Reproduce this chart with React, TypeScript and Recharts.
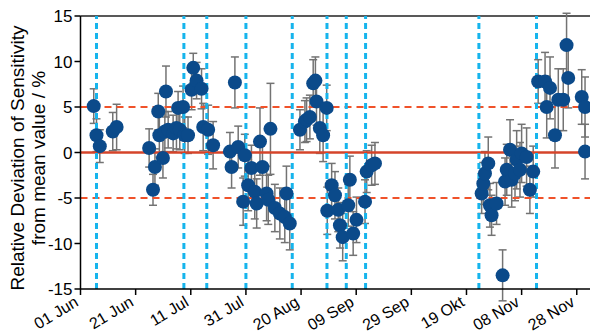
import React from "react";
import {
  ScatterChart, Scatter, XAxis, YAxis, ReferenceLine, ErrorBar,
} from "recharts";

// days after 01 Jun
const dayOffsets = [
  4.8, 5.8, 7.0, 11.7, 13.1,
  24.9, 26.3, 27.0, 28.2, 28.6, 29.9, 31.0, 30.6, 31.8, 33.6, 34.8, 36.0, 35.4,
  37.2, 37.8, 39.0, 40.3, 40.9, 42.1, 43.9, 44.5, 46.3, 48.1,
  54.2, 54.8, 56.0, 57.2, 59.0, 59.6, 60.8, 62.0, 63.2, 63.9, 65.1, 66.0, 67.5,
  68.1, 68.9, 70.5, 72.3, 74.1, 74.7, 75.9,
  79.6, 81.4, 82.0, 83.2, 84.4, 85.2, 85.6, 86.8, 88.0, 89.3, 89.5, 91.1, 92.3,
  93.5, 94.1, 95.1, 97.1, 97.7, 98.9, 100.1, 103.2, 103.8, 105.6, 106.8,
  145.5, 146.1, 146.7, 147.9, 148.5, 149.1, 150.9, 153.1, 154.0, 154.6, 155.8,
  156.4, 157.6, 158.2, 159.4, 160.0, 161.8, 163.0, 164.2,
  166.0, 168.5, 169.1, 170.3, 172.1, 173.3, 175.1, 176.3, 176.9, 181.8, 183.0, 183.0,
];

const deviations = [
  5.1, 1.9, 0.7, 2.3, 2.8,
  0.5, -4.1, -1.6, 4.5, 1.9, -0.6, 6.7, 2.3, 2.5, 2.1, 2.7, 2.5, 4.9,
  5.0, 1.9, 1.9, 6.9, 9.3, 7.9, 7.0, 2.8, 2.5, 0.8,
  0.1, -1.6, 7.7, 0.6, -5.4, -0.3, -3.6, -1.7, -4.3, -5.6, 1.2, -1.6, -4.5,
  -5.2, 2.6, -6.1, -6.7, -7.1, -4.5, -7.8,
  2.5, 3.4, 3.6, 3.9, 7.6, 7.9, 5.6, 2.7, 1.9, 4.9, -6.4, -3.6, -4.7,
  -6.3, -8.0, -9.3, -5.8, -3.0, -8.9, -7.4, -5.4, -2.1, -1.4, -1.2,
  -4.5, -3.4, -2.3, -1.2, -5.8, -6.9, -5.6, -13.5, -3.2, -1.9, 0.3,
  -3.0, -2.3, -0.8, -1.9, -0.1, -0.5, -4.1, -2.1,
  7.8, 7.8, 5.0, 7.1, 1.9, 5.8, 5.8, 11.8, 8.2, 6.1, 5.0, 0.1,
];

const errors = [
  1.9, 1.8, 1.8, 2.1, 2.5,
  2.1, 1.7, 2.0, 2.0, 2.4, 2.2, 2.8, 2.2, 2.0, 2.0, 2.3, 2.2, 1.8,
  2.3, 2.0, 2.0, 2.2, 1.6, 2.0, 2.2, 2.6, 2.7, 2.6,
  2.1, 2.3, 2.8, 2.3, 2.6, 2.3, 2.8, 2.5, 3.0, 2.7, 3.7, 3.0, 3.0,
  2.7, 5.0, 2.6, 2.8, 2.8, 3.0, 2.9,
  2.2, 2.3, 2.4, 2.4, 2.6, 2.6, 2.6, 2.8, 2.9, 2.5, 2.6, 2.4, 2.6,
  2.4, 2.5, 2.6, 2.3, 2.6, 2.4, 2.5, 2.4, 2.3, 2.2, 2.3,
  2.2, 2.3, 2.4, 2.9, 2.4, 2.2, 2.3, 2.8, 2.6, 2.8, 3.3,
  3.0, 3.0, 3.2, 3.0, 3.2, 3.2, 2.6, 2.8,
  2.4, 3.2, 3.4, 3.4, 3.6, 3.4, 3.4, 3.5, 3.3, 3.0, 3.3, 3.0,
];

const campaignDays = [5.8, 37.5, 45.8, 60.0, 76.8, 89.4, 96.4, 103.4, 144.5, 165.4];

const tickDays = [0, 20, 40, 60, 80, 100, 120, 140, 160, 180];
const tickLabels = [
  "01 Jun", "21 Jun", "11 Jul", "31 Jul", "20 Aug",
  "09 Sep", "29 Sep", "19 Okt", "08 Nov", "28 Nov",
];

const yTicks = [-15, -10, -5, 0, 5, 10, 15];

const data = dayOffsets.map((d, i) => ({ day: d, dev: deviations[i], err: errors[i] }));

const FONT = "'Liberation Sans', Arial, sans-serif";

const DateTick = ({ x, y, payload }: any) => {
  const i = tickDays.indexOf(payload.value);
  const tx = x - 1;
  const ty = y + 8;
  return (
    <text
      x={tx}
      y={ty}
      textAnchor="end"
      fontSize={16}
      fontFamily={FONT}
      fill="#000"
      transform={`rotate(-31, ${tx}, ${ty})`}
    >
      {tickLabels[i]}
    </text>
  );
};

const Dot = ({ cx, cy }: any) => <circle cx={cx} cy={cy} r={7} fill="#0b4a8a" />;
const NoDot = () => null;

export default function App() {
  return (
    <div style={{ position: "absolute", left: 0, top: 0, background: "#fff" }}>
      <ScatterChart width={590} height={335} margin={{ top: 16, right: 0, bottom: 0, left: 0.5 }}>
        <XAxis
          type="number"
          dataKey="day"
          domain={[0, 184.8]}
          ticks={tickDays}
          tick={<DateTick />}
          height={46}
          tickSize={6}
          axisLine={{ stroke: "#000", strokeWidth: 1.5 }}
          tickLine={{ stroke: "#000", strokeWidth: 1.5 }}
          allowDataOverflow
        />
        <YAxis
          type="number"
          dataKey="dev"
          domain={[-15, 15]}
          ticks={yTicks}
          width={80}
          tickSize={6}
          tick={{ fontSize: 17, fill: "#000", fontFamily: FONT }}
          axisLine={{ stroke: "#000", strokeWidth: 1.5 }}
          tickLine={{ stroke: "#000", strokeWidth: 1.5 }}
          allowDataOverflow
          label={{
            content: () => (
              <g fontFamily={FONT} fontSize={19} fill="#000" textAnchor="middle">
                <text x={24} y={158} transform="rotate(-90, 24, 158)">
                  Relative Deviation of Sensitivity
                </text>
                <text x={45} y={158} transform="rotate(-90, 45, 158)">
                  from mean value / %
                </text>
              </g>
            ),
          }}
        />
        <ReferenceLine y={15} stroke="#222" strokeWidth={1.5} />
        <Scatter data={data} shape={<Dot />} isAnimationActive={false} />
        <Scatter data={data} shape={<NoDot />} isAnimationActive={false}>
          <ErrorBar dataKey="err" direction="y" width={4} stroke="#737373" strokeWidth={1.5} />
        </Scatter>
        <ReferenceLine y={0} stroke="#d5442a" strokeWidth={2.5} />
        <ReferenceLine y={5} stroke="#f0522a" strokeWidth={2} strokeDasharray="7 5" />
        <ReferenceLine y={-5} stroke="#f0522a" strokeWidth={2} strokeDasharray="7 5" />
        {campaignDays.map((d) => (
          <ReferenceLine key={d} x={d} stroke="#16b4ec" strokeWidth={3} strokeDasharray="6 4" />
        ))}
      </ScatterChart>
    </div>
  );
}
